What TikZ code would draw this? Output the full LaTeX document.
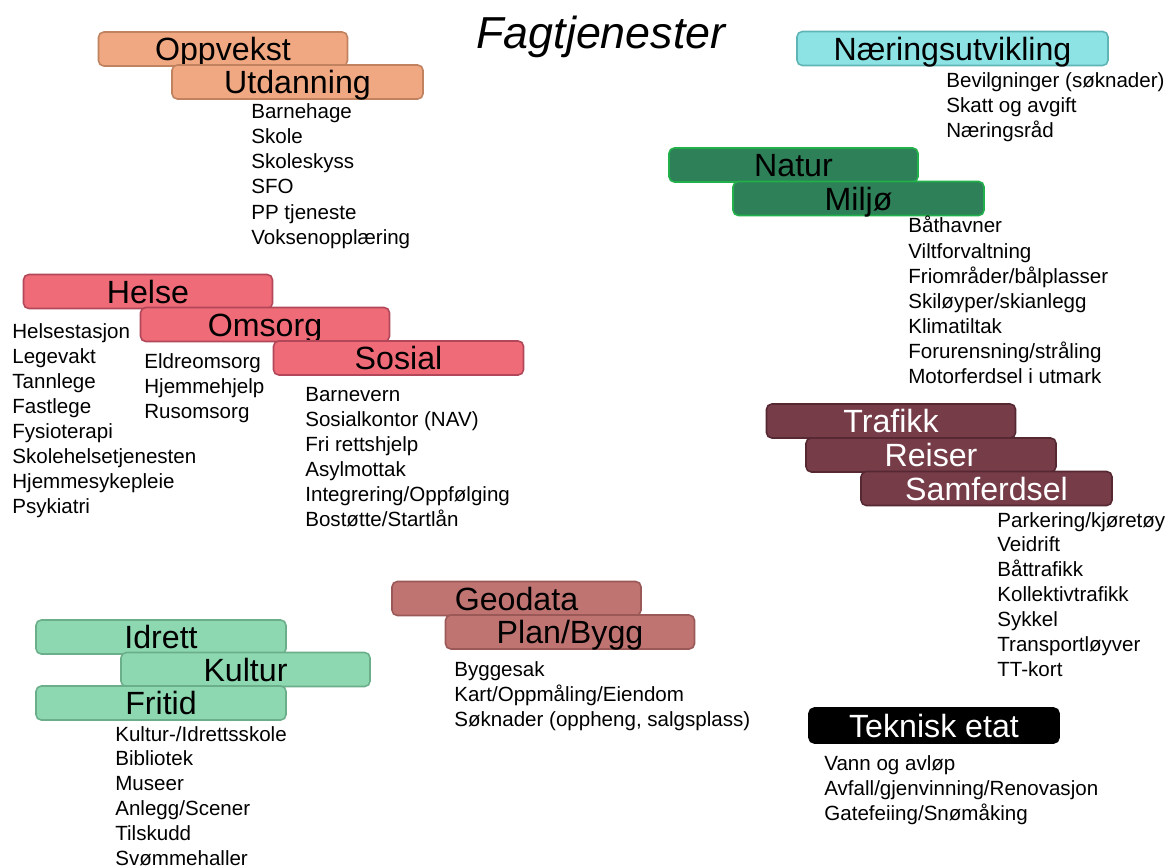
\documentclass[tikz,border=0pt]{standalone}
\usepackage{fontspec}
\setmainfont{Liberation Sans}
\definecolor{orfill}{HTML}{F0A882}\definecolor{ordraw}{HTML}{C0825F}
\definecolor{cyfill}{HTML}{8DE3E4}\definecolor{cydraw}{HTML}{5FB4B5}
\definecolor{gnfill}{HTML}{2E8058}\definecolor{gndraw}{HTML}{22B04B}
\definecolor{rdfill}{HTML}{EF6B77}\definecolor{rddraw}{HTML}{B3475A}
\definecolor{mrfill}{HTML}{763D49}\definecolor{mrdraw}{HTML}{552832}
\definecolor{gofill}{HTML}{BF7472}\definecolor{godraw}{HTML}{9A5856}
\definecolor{mtfill}{HTML}{8DD8B1}\definecolor{mtdraw}{HTML}{6BAF8A}
\begin{document}
\begin{tikzpicture}[x=0.02cm,y=-0.02cm,
  box/.style={draw, line width=0.9pt, rounded corners=3pt, minimum height=34*0.02cm,
    minimum width=249*0.02cm, inner sep=0pt, text height=13.1pt, text depth=0pt,
    font=\fontsize{18.3}{20}\selectfont},
  bw/.style={minimum width=#1*0.02cm},
  orb/.style={box, fill=orfill, draw=ordraw},
  cyb/.style={box, fill=cyfill, draw=cydraw},
  gnb/.style={box, fill=gnfill, draw=gndraw},
  rdb/.style={box, fill=rdfill, draw=rddraw},
  mrb/.style={box, fill=mrfill, draw=mrdraw, text=white},
  gob/.style={box, fill=gofill, draw=godraw},
  mtb/.style={box, fill=mtfill, draw=mtdraw},
  tkb/.style={box, fill=black, draw=black, text=white},
  item/.style={anchor=base west, inner sep=0pt, font=\fontsize{11.7}{13}\selectfont}]
\useasboundingbox (0,0) rectangle (1172,868);

\node[anchor=base, inner sep=0pt, font=\fontsize{25.5}{28}\selectfont\itshape] (title) at (601,49) {Fagtjenester};

% Oppvekst / Utdanning
\node[orb] (oppvekst) at (223,49) {Oppvekst};
\node[orb, bw=251] (utdanning) at (297.5,82) {Utdanning};
\foreach \t [count=\i from 0] in {Barnehage,Skole,Skoleskyss,SFO,PP tjeneste,Voksenoppl\ae ring}
  \node[item] (utd\i) at (251,{119+25*\i}) {\t};

% Naeringsutvikling
\node[cyb, bw=311] (naering) at (952.5,48.5) {Næringsutvikling};
\foreach \t [count=\i from 0] in {Bevilgninger (søknader),Skatt og avgift,Næringsråd}
  \node[item] (nar\i) at (946,{88+25*\i}) {\t};

% Natur / Miljo
\node[gnb] (natur) at (793.5,165) {Natur};
\node[gnb, bw=251] (miljo) at (858.5,198.5) {Miljø};
\foreach \t [count=\i from 0] in {Båthavner,Viltforvaltning,Friområder/bålplasser,Skiløyper/skianlegg,Klimatiltak,Forurensning/stråling,Motorferdsel i utmark}
  \node[item] (mil\i) at (908,{233+25*\i}) {\t};

% Helse / Omsorg / Sosial
\node[rdb] (helse) at (148,291.5) {Helse};
\node[rdb] (omsorg) at (265,324.5) {Omsorg};
\node[rdb, bw=250] (sosial) at (398.5,358) {Sosial};
\foreach \t [count=\i from 0] in {Helsestasjon,Legevakt,Tannlege,Fastlege,Fysioterapi,Skolehelsetjenesten,Hjemmesykepleie,Psykiatri}
  \node[item] (hel\i) at (12,{338+25*\i}) {\t};
\foreach \t [count=\i from 0] in {Eldreomsorg,Hjemmehjelp,Rusomsorg}
  \node[item] (oms\i) at (144,{368+25*\i}) {\t};
\foreach \t [count=\i from 0] in {Barnevern,Sosialkontor (NAV),Fri rettshjelp,Asylmottak,Integrering/Oppfølging,Bostøtte/Startlån}
  \node[item] (sos\i) at (305,{401+25*\i}) {\t};

% Trafikk / Reiser / Samferdsel
\node[mrb] (trafikk) at (891,421) {Trafikk};
\node[mrb, bw=250] (reiser) at (931,455) {Reiser};
\node[mrb, bw=251] (samferdsel) at (986.5,488.5) {Samferdsel};
\foreach \t [count=\i from 0] in {Parkering/kjøretøy,Veidrift,Båttrafikk,Kollektivtrafikk,Sykkel,Transportløyver,TT-kort}
  \node[item] (sam\i) at (997,{527+24.85*\i}) {\t};

% Geodata / Plan/Bygg
\node[gob] (geodata) at (516.5,598.5) {Geodata};
\node[gob] (planbygg) at (570,632) {Plan/Bygg};
\foreach \t [count=\i from 0] in {Byggesak,Kart/Oppmåling/Eiendom,{Søknader (oppheng, salgsplass)}}
  \node[item] (pla\i) at (454,{676+25*\i}) {\t};

% Idrett / Kultur / Fritid
\node[mtb, bw=250] (idrett) at (161,637) {Idrett};
\node[mtb] (kultur) at (245.5,669.5) {Kultur};
\node[mtb, bw=250] (fritid) at (161,703) {Fritid};
\foreach \t [count=\i from 0] in {Kultur-/Idrettsskole,Bibliotek,Museer,Anlegg/Scener,Tilskudd,Svømmehaller}
  \node[item] (fri\i) at (115,{741+24.8*\i}) {\t};

% Teknisk etat
\node[tkb, bw=250, minimum height=35*0.02cm] (teknisk) at (934,725.5) {Teknisk etat};
\foreach \t [count=\i from 0] in {Vann og avløp,Avfall/gjenvinning/Renovasjon,Gatefeiing/Snømåking}
  \node[item] (tek\i) at (824,{770+25*\i}) {\t};
\end{tikzpicture}
\end{document}
